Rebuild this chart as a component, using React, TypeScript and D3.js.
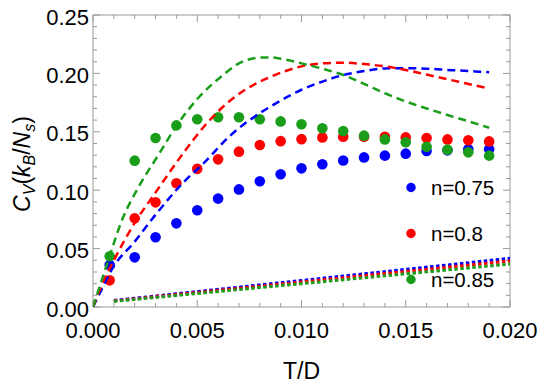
import React from "react";
import * as d3 from "d3";

const W = 542;
const H = 386;
const margin = { left: 93, right: 32, top: 15, bottom: 79 };

// Scatter data (T/D, C_V)
const tPoints = [0.0008, 0.002, 0.003, 0.004, 0.005, 0.006, 0.007, 0.008, 0.009, 0.010, 0.011, 0.012, 0.013, 0.014, 0.015, 0.016, 0.017, 0.018, 0.019];
const blueDots = [0.036, 0.0425, 0.0597, 0.0716, 0.0828, 0.0928, 0.1007, 0.1076, 0.1136, 0.1187, 0.1222, 0.1254, 0.1281, 0.1296, 0.1313, 0.1336, 0.1341, 0.135, 0.135];
const redDots = [0.0228, 0.0759, 0.0896, 0.1059, 0.1183, 0.1264, 0.133, 0.1387, 0.142, 0.1437, 0.1452, 0.1458, 0.1458, 0.1458, 0.1452, 0.1447, 0.1435, 0.1427, 0.1418];
const greenDots = [0.0435, 0.1253, 0.1447, 0.1555, 0.1607, 0.1624, 0.1624, 0.1607, 0.1589, 0.1564, 0.153, 0.1507, 0.1467, 0.1435, 0.141, 0.1372, 0.1347, 0.1324, 0.1296];

// Dashed curves
const blueCurveT = [0, 0.0003, 0.001, 0.002, 0.003, 0.0043, 0.0053, 0.0066, 0.008, 0.0085, 0.010, 0.011, 0.012, 0.013, 0.014, 0.015, 0.016, 0.017, 0.018, 0.019];
const blueCurveC = [0, 0.011, 0.035, 0.056, 0.079, 0.106, 0.123, 0.147, 0.166, 0.1715, 0.186, 0.193, 0.1986, 0.202, 0.2043, 0.2045, 0.204, 0.203, 0.202, 0.201];
const redCurveT = [0, 0.0005, 0.001, 0.002, 0.003, 0.0043, 0.0054, 0.0064, 0.008, 0.0085, 0.010, 0.011, 0.012, 0.013, 0.014, 0.015, 0.016, 0.017, 0.018, 0.019];
const redCurveC = [0, 0.022, 0.040, 0.072, 0.098, 0.131, 0.156, 0.174, 0.193, 0.197, 0.206, 0.2086, 0.2092, 0.208, 0.206, 0.2029, 0.199, 0.195, 0.191, 0.187];
const greenCurveT = [0, 0.00066, 0.00145, 0.0021, 0.0032, 0.004, 0.0051, 0.0062, 0.007, 0.008, 0.0085, 0.009, 0.010, 0.011, 0.012, 0.013, 0.014, 0.015, 0.016, 0.017, 0.018, 0.019];
const greenCurveC = [0, 0.036, 0.077, 0.100, 0.132, 0.155, 0.180, 0.198, 0.2086, 0.2135, 0.2137, 0.2125, 0.2086, 0.204, 0.1986, 0.191, 0.183, 0.176, 0.170, 0.1644, 0.159, 0.1535];

// Dotted lines
const dottedT = [0.001, 0.02];
const blueDotted = [0.0056, 0.0417];
const redDotted = [0.0052, 0.0394];
const greenDotted = [0.0048, 0.0368];

const xMajor = [0, 0.005, 0.01, 0.015, 0.02];
const xLabels = ["0.000", "0.005", "0.010", "0.015", "0.020"];
const yMajor = [0, 0.05, 0.1, 0.15, 0.2, 0.25];
const yLabels = ["0.00", "0.05", "0.10", "0.15", "0.20", "0.25"];

const legendLabels = ["n=0.75", "n=0.8", "n=0.85"];

const BLUE = "#0000ff";
const RED = "#ff0000";
const GREEN = "#1a9e1a";
const FONT = "'Liberation Sans', Arial, sans-serif";

export default function App() {
  const x = d3.scaleLinear().domain([0, 0.02]).range([margin.left, W - margin.right]);
  const y = d3.scaleLinear().domain([0, 0.25]).range([H - margin.bottom, margin.top]);
  const x0 = x(0), x1 = x(0.02), y0 = y(0), y1 = y(0.25);

  const line = d3
    .line<[number, number]>()
    .x((d) => x(d[0]))
    .y((d) => y(d[1]))
    .curve(d3.curveMonotoneX);
  const straight = d3
    .line<[number, number]>()
    .x((d) => x(d[0]))
    .y((d) => y(d[1]));

  const zip = (a: number[], b: number[]) => a.map((v, i) => [v, b[i]] as [number, number]);

  const xMinor = d3.range(0, 21).map((i) => i * 0.001);
  const yMinor = d3.range(0, 26).map((i) => i * 0.01);
  const isMajorX = (v: number) => Math.abs(v / 0.005 - Math.round(v / 0.005)) < 1e-6;
  const isMajorY = (v: number) => Math.abs(v / 0.05 - Math.round(v / 0.05)) < 1e-6;

  const tickColor = "#9a9a9a";
  const majLen = 7;
  const minLen = 4;

  const series = [
    { color: BLUE, dots: blueDots, cT: blueCurveT, cC: blueCurveC, dotted: blueDotted },
    { color: RED, dots: redDots, cT: redCurveT, cC: redCurveC, dotted: redDotted },
    { color: GREEN, dots: greenDots, cT: greenCurveT, cC: greenCurveC, dotted: greenDotted },
  ];

  const legendY = [187.5, 233.5, 279.5];

  return (
    <svg width={W} height={H} style={{ position: "absolute", left: 0, top: 0, background: "#fff" }} fontFamily={FONT}>
      <defs>
        <clipPath id="plotclip">
          <rect x={x0} y={y1} width={x1 - x0} height={y0 - y1} />
        </clipPath>
      </defs>
      {/* frame */}
      <rect x={x0} y={y1} width={x1 - x0} height={y0 - y1} fill="none" stroke={tickColor} strokeWidth={1} />
      {/* x ticks bottom & top */}
      {xMinor.map((v, i) => {
        const len = isMajorX(v) ? majLen : minLen;
        return (
          <g key={"xt" + i} stroke={tickColor} strokeWidth={1}>
            <line x1={x(v)} x2={x(v)} y1={y0} y2={y0 - len} />
            <line x1={x(v)} x2={x(v)} y1={y1} y2={y1 + len} />
          </g>
        );
      })}
      {yMinor.map((v, i) => {
        const len = isMajorY(v) ? majLen : minLen;
        return (
          <g key={"yt" + i} stroke={tickColor} strokeWidth={1}>
            <line x1={x0} x2={x0 + len} y1={y(v)} y2={y(v)} />
            <line x1={x1} x2={x1 - len} y1={y(v)} y2={y(v)} />
          </g>
        );
      })}
      {/* tick labels */}
      {xMajor.map((v, i) => (
        <text key={"xl" + i} x={x(v)} y={y0 + 31} textAnchor="middle" fontSize={22} fill="#000">
          {xLabels[i]}
        </text>
      ))}
      {yMajor.map((v, i) => (
        <text key={"yl" + i} x={x0 - 4} y={y(v) + 9.5} textAnchor="end" fontSize={22} fill="#000">
          {yLabels[i]}
        </text>
      ))}
      {/* axis titles */}
      <text x={(x0 + x1) / 2} y={379} textAnchor="middle" fontSize={23} fill="#000">
        T/D
      </text>
      <text transform={`translate(30,${(y0 + y1) / 2 + 3}) rotate(-90)`} textAnchor="middle" fontSize={23} fill="#000">
        <tspan fontStyle="italic">C</tspan>
        <tspan fontSize={16} dy={5} fontStyle="italic">V</tspan>
        <tspan dy={-5}>(</tspan>
        <tspan fontStyle="italic">k</tspan>
        <tspan fontSize={16} dy={5} fontStyle="italic">B</tspan>
        <tspan dy={-5}>/</tspan>
        <tspan fontStyle="italic">N</tspan>
        <tspan fontSize={16} dy={5} fontStyle="italic">s</tspan>
        <tspan dy={-5}>)</tspan>
      </text>
      <g clipPath="url(#plotclip)">
        {/* dotted lines */}
        {series.map((s, i) => (
          <path
            key={"dt" + i}
            d={straight(zip(dottedT, s.dotted)) || ""}
            fill="none"
            stroke={s.color}
            strokeWidth={3}
            strokeDasharray="3.5,2.5"
          />
        ))}
        {/* dots */}
        {series.map((s, i) => (
          <g key={"dots" + i} fill={s.color}>
            {tPoints.map((t, j) => (
              <circle key={j} cx={x(t)} cy={y(s.dots[j])} r={5.3} />
            ))}
          </g>
        ))}
        {/* dashed curves */}
        {series.map((s, i) => (
          <path
            key={"dc" + i}
            d={line(zip(s.cT, s.cC)) || ""}
            fill="none"
            stroke={s.color}
            strokeWidth={2.5}
            strokeDasharray="8,5"
          />
        ))}
      </g>
      {/* legend */}
      {series.map((s, i) => (
        <g key={"lg" + i}>
          <circle cx={411} cy={legendY[i]} r={4.7} fill={s.color} />
          <text x={431} y={legendY[i] + 7.5} fontSize={20.5} fill="#000">
            {legendLabels[i]}
          </text>
        </g>
      ))}
    </svg>
  );
}
